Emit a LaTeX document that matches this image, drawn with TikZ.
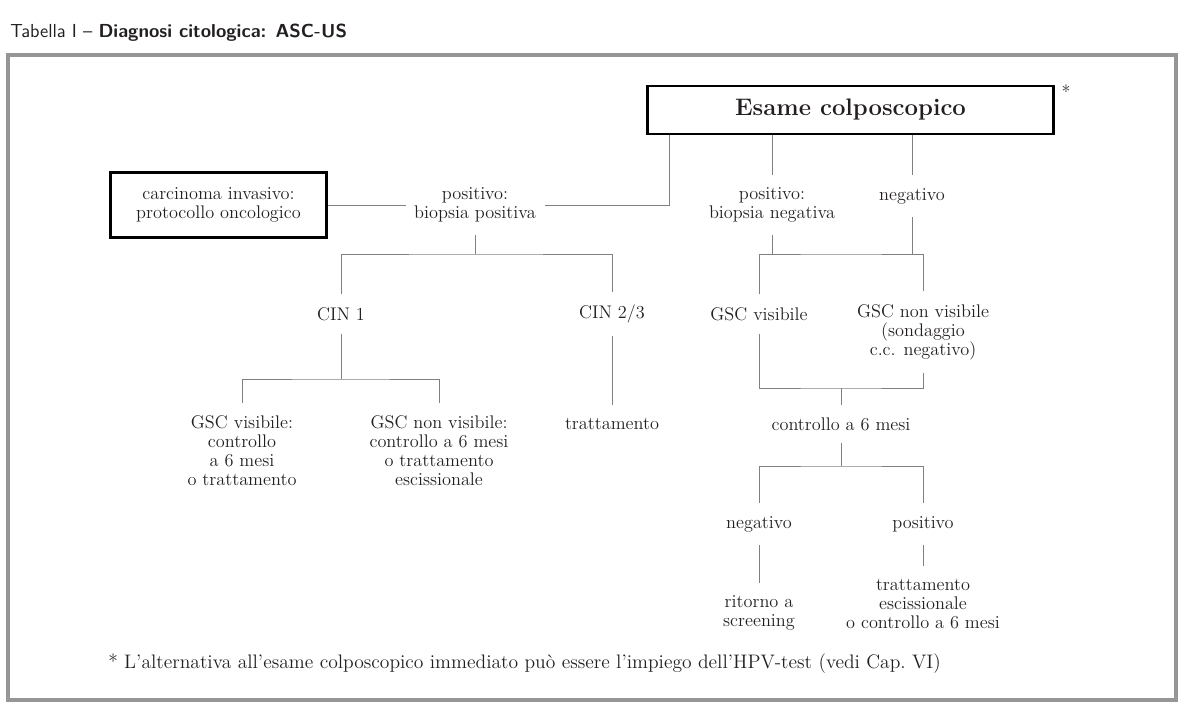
\documentclass[tikz,border=0pt]{standalone}
\usepackage{tikz}
\usetikzlibrary{calc}
\definecolor{InkGray}{RGB}{35, 31, 32}
\definecolor{LineGray}{RGB}{128, 128, 128}
\definecolor{FrameGray}{RGB}{150, 150, 150}
\newcommand{\bodysize}{\fontsize{13}{13.5}\selectfont}

\begin{document}
\begin{tikzpicture}[
  x=0.025cm, y=-0.025cm,
  txt/.style={align=center, inner xsep=6pt, inner ysep=9pt,
              font=\bodysize, text=InkGray},
  bx/.style={draw=black, line width=2pt, align=center, text=InkGray},
  ln/.style={draw=LineGray, line width=0.7pt},
  frame/.style={draw=FrameGray, line width=2.2pt}
]
  \useasboundingbox (0,0) rectangle (1189,716);

  % ---- titolo e cornice ----
  \node[anchor=base west, inner sep=0pt, text=InkGray,
        font=\fontsize{13.4}{15}\selectfont\sffamily] (title) at (10,38)
        {Tabella I -- \textbf{Diagnosi citologica: ASC-US}};
  \draw[frame] (8,55) rectangle (1176,700);

  % ---- riquadri ----
  \node[bx, minimum width=10.15cm, minimum height=1.2cm,
        font=\fontsize{17}{20}\selectfont\bfseries] (esame) at (850.5,110)
        {Esame colposcopico};
  \node[font=\bodysize, text=InkGray, inner sep=0pt] (star) at (1066,92) {*};
  \node[bx, minimum width=5.4cm, minimum height=1.62cm, font=\bodysize]
        (carc) at (218.5,205) {carcinoma invasivo:\\protocollo oncologico};

  % ---- primo livello ----
  \node[txt] (bpos) at (475,205) {positivo:\\biopsia positiva};
  \node[txt] (bneg) at (772,205) {positivo:\\biopsia negativa};
  \node[txt] (neg)  at (912,196) {negativo};

  % ---- ramo sinistro ----
  \node[txt] (cin1)  at (341,314) {CIN 1};
  \node[txt] (cin23) at (612,314) {CIN 2/3};
  \node[txt] (gv)    at (242,451) {GSC visibile:\\controllo\\a 6 mesi\\o trattamento};
  \node[txt] (gnv)   at (439,451) {GSC non visibile:\\controllo a 6 mesi\\o trattamento\\escissionale};
  \node[txt] (tratt) at (612,424) {trattamento};

  % ---- ramo destro ----
  \node[txt] (gscv) at (759,314) {GSC visibile};
  \node[txt] (gscn) at (923,332) {GSC non visibile\\(sondaggio\\c.c. negativo)};
  \node[txt] (ctrl) at (841,424) {controllo a 6 mesi};
  \node[txt] (neg2) at (759,524) {negativo};
  \node[txt] (pos2) at (923,524) {positivo};
  \node[txt] (rit)  at (759,613) {ritorno a\\screening};
  \node[txt] (esc)  at (923,604) {trattamento\\escissionale\\o controllo a 6 mesi};

  % punti di giunzione
  \coordinate (k1) at (669,205);
  \coordinate (j1) at (475,254);
  \coordinate (j2) at (841,254);
  \coordinate (j3) at (841,388);
  \coordinate (j4) at (841,466);
  \coordinate (j5) at (341,379);

  % ---- connettori ----
  \draw[ln] (esame.south -| k1) -- (k1) -- (bpos.east);
  \draw[ln] (carc.east) -- (bpos.west);
  \draw[ln] (bneg.north) -- (bneg.north |- esame.south);
  \draw[ln] (neg.north) -- (neg.north |- esame.south);

  \draw[ln] (bpos.south) -- (j1);
  \draw[ln] (cin1.north) |- (j1) -| (cin23.north);
  \draw[ln] (cin1.south) -- (j5);
  \draw[ln] (gv.north) |- (j5) -| (gnv.north);
  \draw[ln] (cin23.south) -- (tratt.north);

  \draw[ln] (bneg.south) -- (bneg.south |- j2);
  \draw[ln] (neg.south) -- (neg.south |- j2);
  \draw[ln] (gscv.north) |- (j2) -| (gscn.north);
  \draw[ln] (gscv.south) |- (j3) -| (gscn.south);
  \draw[ln] (j3) -- (ctrl.north);
  \draw[ln] (ctrl.south) -- (j4);
  \draw[ln] (neg2.north) |- (j4) -| (pos2.north);
  \draw[ln] (neg2.south) -- (rit.north);
  \draw[ln] (pos2.south) -- (esc.north);

  % ---- nota ----
  \node[anchor=base west, inner sep=0pt, font=\fontsize{13.9}{15}\selectfont, text=InkGray]
        (nota) at (108,668)
        {* L'alternativa all'esame colposcopico immediato può essere l'impiego dell'HPV-test (vedi Cap.~VI)};
\end{tikzpicture}
\end{document}
